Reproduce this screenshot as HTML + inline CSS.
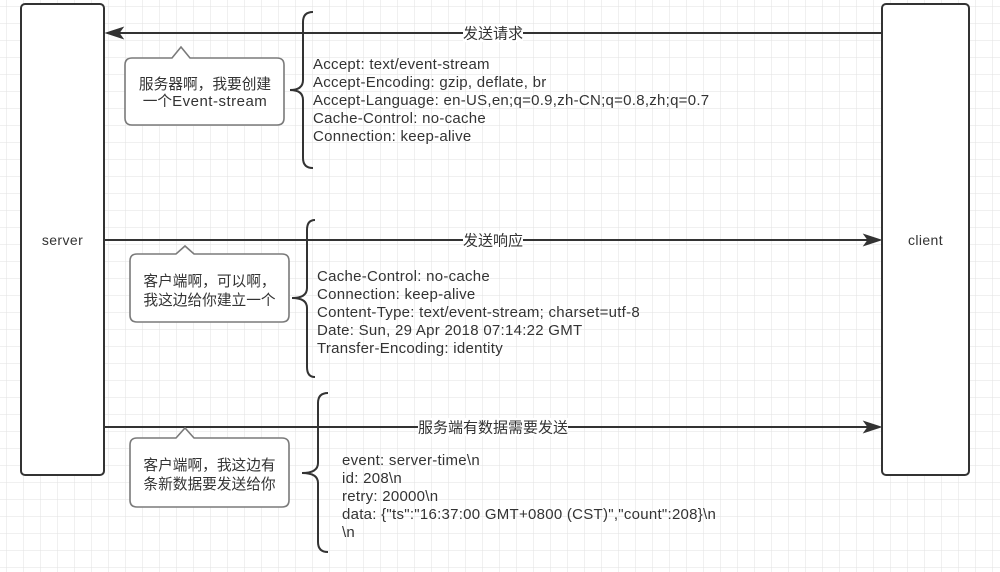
<!DOCTYPE html>
<html>
<head>
<meta charset="utf-8">
<style>
  html,body{margin:0;padding:0;background:#fff;}
  svg{display:block;}
  text{font-family:"Liberation Sans","Noto Sans CJK SC",sans-serif;fill:#333;}
  .hdr{font-size:15px;letter-spacing:0.27px;}
  .cjk{font-size:14.7px;}
  .lbl{font-size:15px;}
  .box{font-size:14px;letter-spacing:0.4px;}
</style>
</head>
<body>
<svg width="1000" height="572" viewBox="0 0 1000 572" xmlns="http://www.w3.org/2000/svg">
  <defs>
    <pattern id="grid" x="6.5" y="6.5" width="17" height="17" patternUnits="userSpaceOnUse">
      <path d="M17 0 L0 0 0 17" fill="none" stroke="#e2e2e2" stroke-width="1"/>
    </pattern>
  </defs>
  <rect x="0" y="0" width="1000" height="572" fill="#fff"/>
  <rect x="0" y="0" width="1000" height="572" fill="url(#grid)"/>

  <!-- server / client boxes -->
  <rect x="21" y="4" width="83" height="471" rx="4" ry="4" fill="#fff" stroke="#333" stroke-width="2"/>
  <rect x="882" y="4" width="87" height="471" rx="4" ry="4" fill="#fff" stroke="#333" stroke-width="2"/>
  <text class="box" x="62.5" y="245" text-anchor="middle">server</text>
  <text class="box" x="925.5" y="245" text-anchor="middle">client</text>

  <!-- arrow 1 : client -> server -->
  <line x1="882" y1="33" x2="118" y2="33" stroke="#333" stroke-width="2"/>
  <path d="M106 33 L123 27.5 L119 33 L123 38.5 Z" fill="#333" stroke="#333" stroke-width="1"/>
  <rect x="463" y="24" width="60" height="18" fill="#fff"/>
  <text class="lbl" x="493" y="38.5" text-anchor="middle">发送请求</text>

  <!-- arrow 2 : server -> client -->
  <line x1="104" y1="240" x2="868" y2="240" stroke="#333" stroke-width="2"/>
  <path d="M881 240 L864 234.5 L868 240 L864 245.5 Z" fill="#333" stroke="#333" stroke-width="1"/>
  <rect x="463" y="231" width="60" height="18" fill="#fff"/>
  <text class="lbl" x="493" y="245.5" text-anchor="middle">发送响应</text>

  <!-- arrow 3 : server -> client -->
  <line x1="104" y1="427" x2="868" y2="427" stroke="#333" stroke-width="2"/>
  <path d="M881 427 L864 421.5 L868 427 L864 432.5 Z" fill="#333" stroke="#333" stroke-width="1"/>
  <rect x="418" y="418" width="150" height="18" fill="#fff"/>
  <text class="lbl" x="493" y="432.5" text-anchor="middle">服务端有数据需要发送</text>

  <!-- braces -->
  <path d="M313 12 Q303 12 303 22 L303 80 Q303 90 290 90 Q303 90 303 100 L303 158 Q303 168 313 168" fill="none" stroke="#333" stroke-width="2"/>
  <path d="M315 220 Q307 220 307 230 L307 288 Q307 298 292 298 Q307 298 307 308 L307 367 Q307 377 315 377" fill="none" stroke="#333" stroke-width="2"/>
  <path d="M328 393 Q318 393 318 403 L318 463 Q318 473 302 473 Q318 473 318 483 L318 542 Q318 552 328 552" fill="none" stroke="#333" stroke-width="2"/>

  <!-- header text blocks -->
  <text class="hdr" x="313" y="69">Accept: text/event-stream</text>
  <text class="hdr" x="313" y="87">Accept-Encoding: gzip, deflate, br</text>
  <text class="hdr" x="313" y="105">Accept-Language: en-US,en;q=0.9,zh-CN;q=0.8,zh;q=0.7</text>
  <text class="hdr" x="313" y="123">Cache-Control: no-cache</text>
  <text class="hdr" x="313" y="141">Connection: keep-alive</text>

  <text class="hdr" x="317" y="281">Cache-Control: no-cache</text>
  <text class="hdr" x="317" y="299">Connection: keep-alive</text>
  <text class="hdr" x="317" y="317">Content-Type: text/event-stream; charset=utf-8</text>
  <text class="hdr" x="317" y="335">Date: Sun, 29 Apr 2018 07:14:22 GMT</text>
  <text class="hdr" x="317" y="353">Transfer-Encoding: identity</text>

  <text class="hdr" x="342" y="465">event: server-time\n</text>
  <text class="hdr" x="342" y="483">id: 208\n</text>
  <text class="hdr" x="342" y="501">retry: 20000\n</text>
  <text class="hdr" x="342" y="519">data: {"ts":"16:37:00 GMT+0800 (CST)","count":208}\n</text>
  <text class="hdr" x="342" y="537">\n</text>

  <!-- callouts -->
  <path d="M132 58 L172 58 L181 47 L190 58 L277 58 Q284 58 284 65 L284 118 Q284 125 277 125 L132 125 Q125 125 125 118 L125 65 Q125 58 132 58 Z" fill="#fff" stroke="#7a7a7a" stroke-width="1.6"/>
  <text class="cjk" x="205" y="89" text-anchor="middle">服务器啊，我要创建</text>
  <text class="cjk" x="205" y="106" text-anchor="middle">一个<tspan style="font-size:15px;letter-spacing:0.5px">Event-stream</tspan></text>

  <path d="M137 254 L176 254 L185 246 L194 254 L282 254 Q289 254 289 261 L289 315 Q289 322 282 322 L137 322 Q130 322 130 315 L130 261 Q130 254 137 254 Z" fill="#fff" stroke="#7a7a7a" stroke-width="1.6"/>
  <text class="cjk" x="209.5" y="286" text-anchor="middle">客户端啊，可以啊，</text>
  <text class="cjk" x="209.5" y="305" text-anchor="middle">我这边给你建立一个</text>

  <path d="M137 438 L176 438 L185 428 L194 438 L282 438 Q289 438 289 445 L289 500 Q289 507 282 507 L137 507 Q130 507 130 500 L130 445 Q130 438 137 438 Z" fill="#fff" stroke="#7a7a7a" stroke-width="1.6"/>
  <text class="cjk" x="209.5" y="470" text-anchor="middle">客户端啊，我这边有</text>
  <text class="cjk" x="209.5" y="489" text-anchor="middle">条新数据要发送给你</text>
</svg>
</body>
</html>
